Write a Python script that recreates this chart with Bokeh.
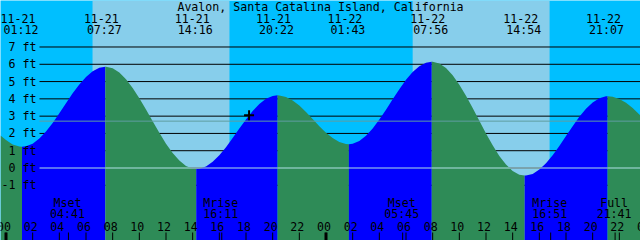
import numpy as np
from bokeh.plotting import figure
from bokeh.models import Range1d, ColumnDataSource
from bokeh.core.properties import value
from bokeh.embed import file_html
from bokeh.resources import INLINE

# ---------------- data ----------------
title_text = "Avalon, Santa Catalina Island, California"

# tide heights (ft) read every half hour; hour 0 = 11-21 00:00
sample_hours = [i * 0.5 for i in range(96)]
sample_feet = [1.62, 1.36, 1.24, 1.26, 1.41, 1.71, 2.11, 2.61, 3.17, 3.75,
               4.32, 4.83, 5.27, 5.60, 5.80, 5.86, 5.77, 5.52, 5.14, 4.63,
               4.04, 3.39, 2.71, 2.04, 1.41, 0.87, 0.43, 0.12, -0.04, -0.05,
               0.09, 0.36, 0.74, 1.20, 1.73, 2.28, 2.81, 3.30, 3.70, 4.00,
               4.17, 4.20, 4.11, 3.91, 3.61, 3.24, 2.83, 2.42, 2.04, 1.73,
               1.50, 1.39, 1.40, 1.56, 1.86, 2.28, 2.80, 3.37, 3.98, 4.56,
               5.10, 5.55, 5.89, 6.09, 6.15, 6.04, 5.78, 5.36, 4.82, 4.18,
               3.47, 2.73, 2.00, 1.31, 0.70, 0.20, -0.17, -0.39, -0.44, -0.34,
               -0.09, 0.27, 0.74, 1.27, 1.85, 2.42, 2.96, 3.43, 3.79, 4.04,
               4.15, 4.12, 3.99, 3.77, 3.47, 3.10]

# heights at the left / right window edges
edge_hours = [-0.4125, 47.5875]
edge_feet = [1.88, 3.03]

# high / low tides
event_hours = [1.2, 7.45, 14.267, 20.367, 25.717, 31.933, 38.9, 45.117]
event_feet = [1.23, 5.86, -0.06, 4.21, 1.38, 6.15, -0.44, 4.15]
event_dates = ["11-21", "11-21", "11-21", "11-21", "11-22", "11-22", "11-22", "11-22"]
event_clock = ["01:12", "07:27", "14:16", "20:22", "01:43", "07:56", "14:54", "21:07"]

# sun
sunrise_hours = [6.49, 30.50]
sunset_hours = [16.76, 40.77]

# moon
moon_hours = [4.683, 16.183, 29.75, 40.85, 45.683]
moon_names = ["Mset", "Mrise", "Mset", "Mrise", "Full"]
moon_clock = ["04:41", "16:11", "05:45", "16:51", "21:41"]

mean_sea_level = 2.71
datum_level = 0.0
now_hour = 18.23
now_feet = 3.05

foot_levels = [-1, 0, 1, 2, 3, 4, 5, 6, 7]
foot_labels = [f"{v} ft" for v in foot_levels]
tick_hours = list(range(0, 49, 2))
tick_labels = [f"{h % 24:02d}" for h in tick_hours]
midnight_hours = [0, 24, 48]

# ---------------- styling ----------------
W, H = 640, 240
PXH = 40.0 / 3.0      # pixels per hour
X0PX = 5.5            # pixel of hour 0
PXF = 17.286          # pixels per foot
Y0PX = 167.5          # pixel of 0 ft

NIGHT = "#00BFFF"
DAY = "#87CEEB"
FLOOD = "#0000FF"
EBB = "#2E8B57"
MSL_COLOR = "#5F9EA0"
DATUM_COLOR = "#B0E0E6"
FONT = value("DejaVu Sans Mono")
FS = "11.6px"


def xpx(px):
    return (px - X0PX) / PXH


def ypx(py):
    return (Y0PX - py) / PXF


xmin, xmax = xpx(0), xpx(W)
ymin, ymax = ypx(H), ypx(0)

p = figure(width=W, height=H, x_range=Range1d(xmin, xmax), y_range=Range1d(ymin, ymax),
           toolbar_location=None, output_backend="svg", min_border=0)
p.axis.visible = False
p.grid.visible = False
p.outline_line_color = None
p.background_fill_color = NIGHT
p.border_fill_color = NIGHT

# day bands
p.quad(left=sunrise_hours, right=sunset_hours, top=ymax, bottom=ymin,
       fill_color=DAY, line_color=None)

# foot grid lines
gx0 = xpx(39)
p.segment(x0=[gx0] * len(foot_levels), x1=[xmax] * len(foot_levels),
          y0=foot_levels, y1=foot_levels, line_color="black", line_width=1)

# tide curve fill
pts = sorted(zip(sample_hours + edge_hours + event_hours,
                 sample_feet + edge_feet + event_feet))
th = np.array([a for a, b in pts])
tf = np.array([b for a, b in pts])
bounds = [edge_hours[0]] + event_hours + [edge_hours[1]]
for a, b in zip(bounds[:-1], bounds[1:]):
    m = (th >= a - 1e-9) & (th <= b + 1e-9)
    xs, ys = th[m], tf[m]
    col = FLOOD if ys[-1] > ys[0] else EBB
    p.varea(x=xs, y1=ymin, y2=ys, fill_color=col)

# MSL and datum lines
p.segment(x0=[gx0], x1=[xmax], y0=[mean_sea_level], y1=[mean_sea_level],
          line_color=MSL_COLOR, line_width=1)
p.segment(x0=[gx0], x1=[xmax], y0=[datum_level], y1=[datum_level],
          line_color=DATUM_COLOR, line_width=1)

# now marker
p.scatter(x=[now_hour], y=[now_feet], marker="cross", size=10,
          line_color="black", line_width=2)

common = dict(text_font=FONT, text_font_size=FS, text_color="black",
              text_baseline="middle")

# title
p.text(x=[(xmin + xmax) / 2], y=[ypx(6)], text=[title_text], text_align="center", **common)

# tide event labels
src_ev = ColumnDataSource(dict(x=event_hours, d=event_dates, c=event_clock,
                               yd=[ypx(18)] * len(event_hours),
                               yc=[ypx(29.7)] * len(event_hours)))
p.text(x="x", y="yd", text="d", source=src_ev, text_align="center", x_offset=-4, **common)
p.text(x="x", y="yc", text="c", source=src_ev, text_align="center", x_offset=-1, **common)

# foot labels
p.text(x=[xpx(36)] * len(foot_levels), y=foot_levels, text=foot_labels,
       text_align="right", **common)

# bottom ticks
ty0, ty1 = ypx(232), ypx(H)
all_ticks = tick_hours + moon_hours
p.segment(x0=all_ticks, x1=all_ticks, y0=[ty0] * len(all_ticks), y1=[ty1] * len(all_ticks),
          line_color="black", line_width=1)
p.segment(x0=midnight_hours, x1=midnight_hours, y0=[ty0] * 3, y1=[ty1] * 3,
          line_color="black", line_width=3)

# hour labels
p.text(x=tick_hours, y=[ypx(226)] * len(tick_hours), text=tick_labels,
       text_align="center", x_offset=-2, **common)

# moon labels
src_m = ColumnDataSource(dict(x=moon_hours, n=moon_names, c=moon_clock,
                              yn=[ypx(202)] * len(moon_hours),
                              yc=[ypx(213.5)] * len(moon_hours)))
p.text(x="x", y="yn", text="n", source=src_m, text_align="center", x_offset=-1, **common)
p.text(x="x", y="yc", text="c", source=src_m, text_align="center", x_offset=-1, **common)

open("out.html", "w").write(file_html(p, INLINE))
